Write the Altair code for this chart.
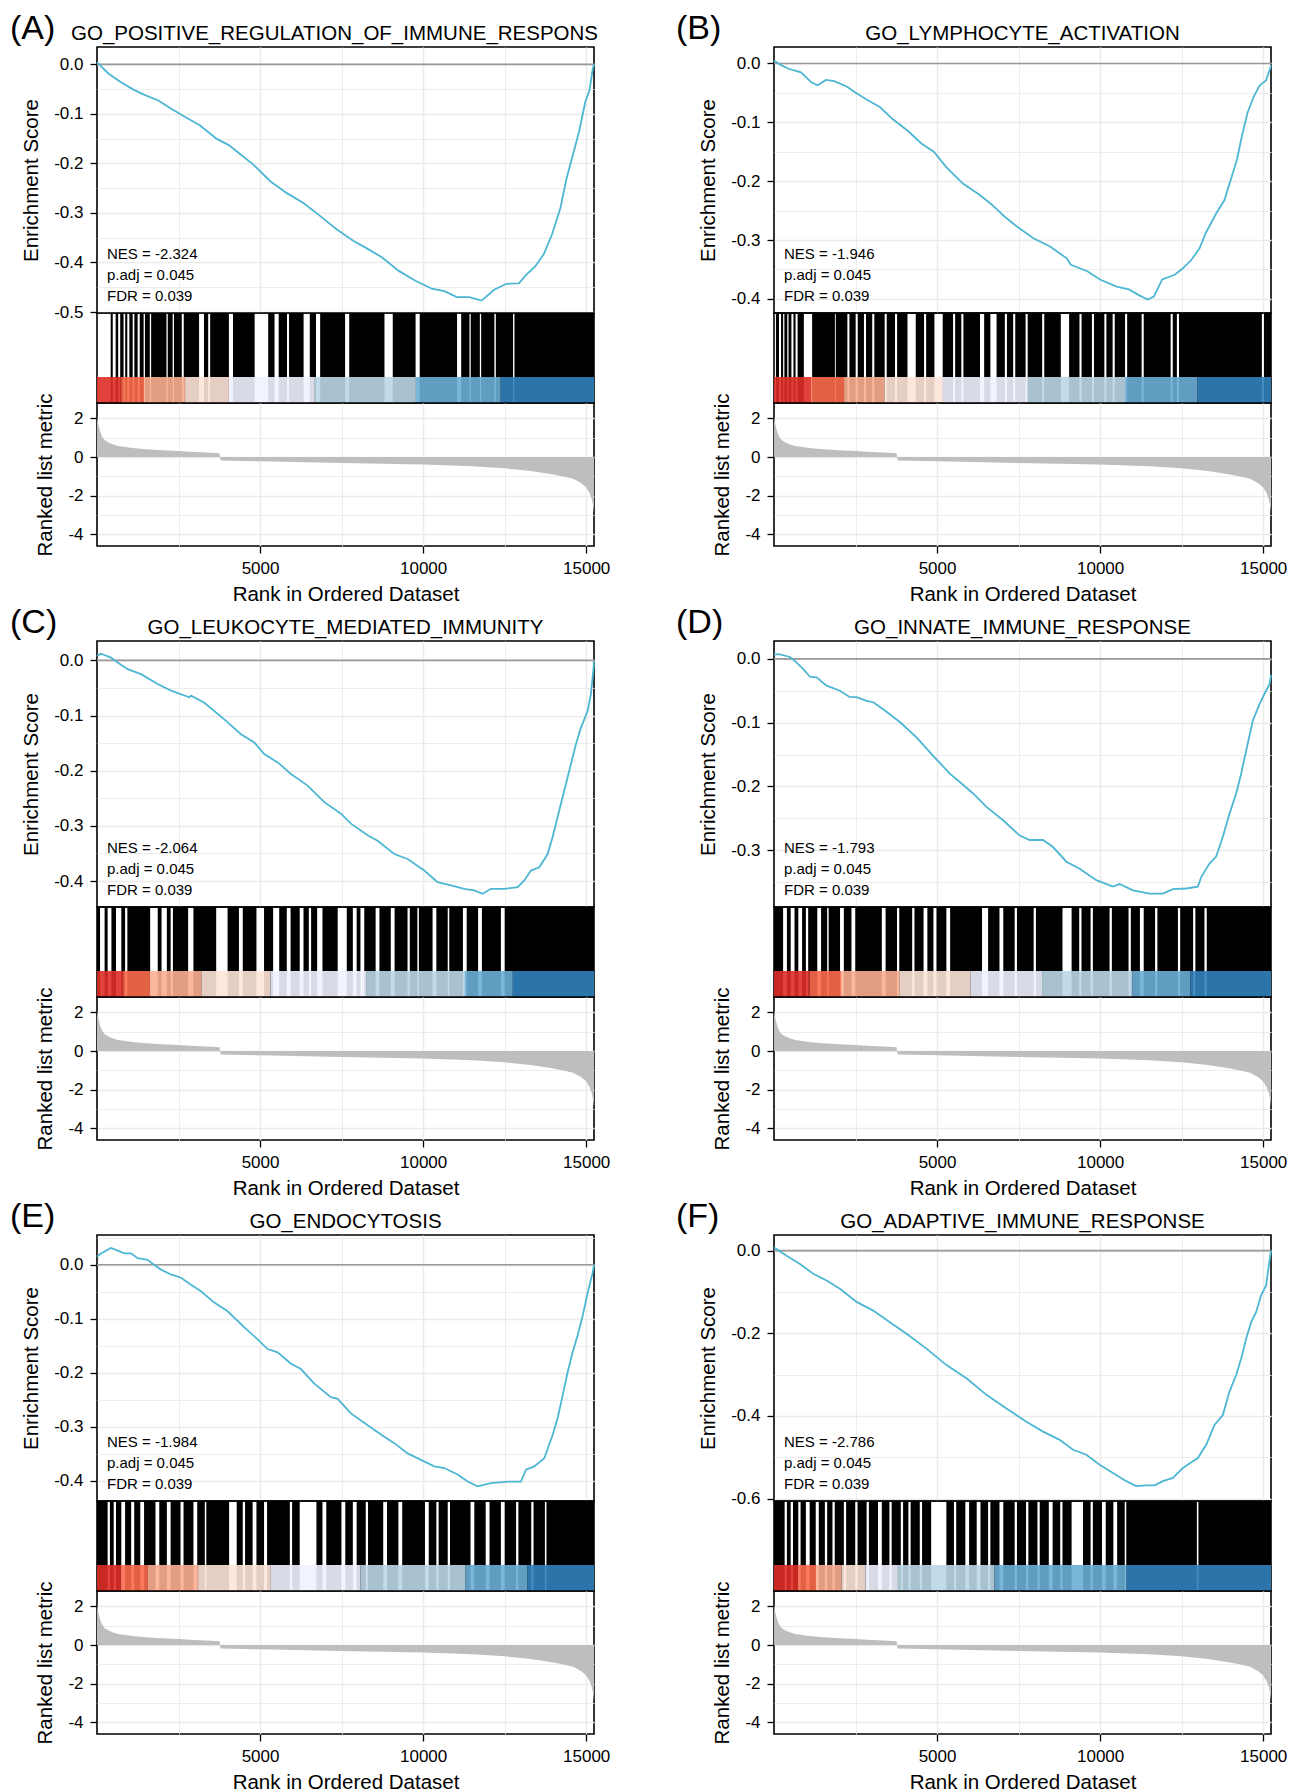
import altair as alt
import pandas as pd

FONT = "Liberation Sans"
N_GENES = 15240
PANEL_W = 497
ES_H = 266
HITS_H = 90
BAND_H = 26
RANK_H = 143
GAP_H = 95

LINE_COLOR = "#4DB6D3"
BAND_COLORS = ["#DE2D26", "#FB6A4A", "#FCAE91", "#FEE5D9", "#EFF3FF", "#BDD7E7", "#6BAED6", "#3182BD"]

x_grid = [2500, 5000, 7500, 10000, 12500, 15000]

# ranked list metric (same dataset for all panels)
metric_rank = [1, 40, 100, 160, 230, 350, 480, 650, 870, 1150, 1500, 2000, 2500, 3000, 3500, 3760, 3790,
               5000, 7500, 10000, 11500, 12500, 13300, 13900, 14300, 14600, 14850, 15000, 15100, 15170, 15210, 15240]
metric_value = [2.1, 1.7, 1.3, 1.05, 0.88, 0.75, 0.66, 0.58, 0.52, 0.46, 0.41, 0.36, 0.31, 0.27, 0.23, 0.2, -0.17,
                -0.22, -0.3, -0.38, -0.47, -0.58, -0.72, -0.87, -1.0, -1.12, -1.35, -1.57, -1.85, -2.15, -2.5, -2.9]
metric_ticks = [-4, -3, -2, -1, 0, 1, 2]

# ---------------- panel A ----------------
title_A = "GO_POSITIVE_REGULATION_OF_IMMUNE_RESPONSE"
nes_A = "-2.324"
es_rank_A = [0, 356, 737, 1118, 1436, 1881, 2262, 2771, 3152, 3661, 4042, 4423, 4805, 5313, 5821, 6330, 6838, 7346,
             7855, 8236, 8745, 9253, 9761, 10269, 10651, 11032, 11413, 11795, 12176, 12557, 12939, 13130, 13447,
             13701, 13955, 14210, 14400, 14591, 14782, 14972, 15100, 15202, 15240]
es_value_A = [0.004, -0.019, -0.036, -0.051, -0.061, -0.073, -0.089, -0.109, -0.123, -0.150, -0.163, -0.183, -0.203,
              -0.236, -0.260, -0.280, -0.306, -0.333, -0.356, -0.370, -0.390, -0.417, -0.437, -0.453, -0.458, -0.470,
              -0.470, -0.477, -0.455, -0.443, -0.442, -0.427, -0.407, -0.383, -0.343, -0.290, -0.230, -0.183, -0.136,
              -0.076, -0.053, -0.009, 0.0]
es_domain_A = [-0.502, 0.035]
es_ticks_A = [0.0, -0.05, -0.1, -0.15, -0.2, -0.25, -0.3, -0.35, -0.4, -0.45, -0.5]
gaps_A = [[0, 420], [483, 572], [649, 712], [814, 865], [929, 992], [1094, 1145], [1247, 1310], [1430, 1470],
          [1620, 1660], [2130, 2170], [2320, 2360], [2600, 2660], [3130, 3280], [3410, 3470], [4045, 4170],
          [4834, 5250], [5444, 5571], [5826, 5889], [6335, 6525], [6716, 6843], [7607, 7734], [8815, 9069],
          [9769, 9896], [11041, 11168], [11422, 11460], [11740, 11780], [12186, 12230], [12758, 12800]]
band_A = [0, 740, 1440, 2700, 4045, 6680, 9775, 12380, 15240]

# ---------------- panel B ----------------
title_B = "GO_LYMPHOCYTE_ACTIVATION"
nes_B = "-1.946"
es_rank_B = [0, 191, 446, 827, 1146, 1337, 1591, 1846, 2228, 2482, 2864, 3246, 3628, 4137, 4519, 4901, 5283, 5792,
             6301, 6683, 7065, 7447, 7956, 8465, 8974, 9102, 9611, 9993, 10502, 10884, 11202, 11457, 11648, 11903,
             12285, 12540, 12795, 13049, 13240, 13558, 13812, 14003, 14194, 14322, 14513, 14704, 14895, 15086,
             15213, 15240]
es_value_B = [0.005, -0.002, -0.009, -0.015, -0.032, -0.037, -0.028, -0.030, -0.039, -0.049, -0.062, -0.074, -0.094,
              -0.116, -0.136, -0.150, -0.176, -0.204, -0.223, -0.240, -0.260, -0.277, -0.297, -0.311, -0.331, -0.342,
              -0.353, -0.367, -0.379, -0.384, -0.394, -0.401, -0.396, -0.367, -0.359, -0.348, -0.334, -0.314, -0.288,
              -0.255, -0.232, -0.198, -0.164, -0.130, -0.085, -0.057, -0.037, -0.029, -0.009, -0.003]
es_domain_B = [-0.424, 0.028]
es_ticks_B = [0.0, -0.05, -0.1, -0.15, -0.2, -0.25, -0.3, -0.35, -0.4]
gaps_B = [[0, 60], [153, 216], [280, 318], [407, 445], [534, 597], [661, 724], [915, 1169], [1868, 1894],
          [2250, 2313], [2504, 2567], [2758, 2822], [3012, 3076], [3394, 3457], [3711, 3775], [4093, 4347],
          [4601, 4665], [4919, 5173], [5491, 5554], [5745, 5808], [6317, 6444], [6635, 6825], [7079, 7143],
          [7334, 7397], [7715, 7779], [8223, 8287], [8795, 9049], [9367, 9431], [9749, 9812], [10130, 10193],
          [10384, 10448], [10765, 10829], [11274, 11337], [12163, 12227], [12354, 12418], [14960, 15023]]
band_B = [0, 1144, 2148, 3393, 5172, 7777, 10764, 12988, 15240]

# ---------------- panel C ----------------
title_C = "GO_LEUKOCYTE_MEDIATED_IMMUNITY"
nes_C = "-2.064"
es_rank_C = [0, 123, 429, 634, 940, 1349, 1860, 2269, 2831, 2882, 3291, 3904, 4415, 4824, 5130, 5539, 5948, 6459,
             6970, 7481, 7788, 8299, 8605, 9116, 9525, 10036, 10445, 10854, 11262, 11569, 11825, 12080, 12489, 12898,
             13102, 13307, 13562, 13818, 13971, 14124, 14329, 14533, 14686, 14840, 15044, 15146, 15228, 15240]
es_value_C = [0.008, 0.012, 0.005, -0.004, -0.016, -0.025, -0.043, -0.055, -0.067, -0.064, -0.077, -0.107, -0.134,
              -0.149, -0.170, -0.185, -0.206, -0.227, -0.257, -0.278, -0.296, -0.317, -0.327, -0.351, -0.360, -0.381,
              -0.402, -0.408, -0.414, -0.417, -0.423, -0.414, -0.414, -0.411, -0.399, -0.381, -0.375, -0.351, -0.320,
              -0.284, -0.236, -0.188, -0.152, -0.122, -0.092, -0.061, -0.013, -0.001]
es_domain_C = [-0.447, 0.035]
es_ticks_C = [0.0, -0.05, -0.1, -0.15, -0.2, -0.25, -0.3, -0.35, -0.4]
gaps_C = [[93, 233], [326, 442], [582, 745], [861, 931], [1630, 1862], [1979, 2142], [2258, 2328], [2794, 2957],
          [3655, 4004], [4353, 4470], [4889, 5122], [5401, 5587], [5820, 5936], [6216, 6332], [6495, 6565],
          [6751, 6914], [7380, 7659], [7845, 7962], [8078, 8195], [8544, 8660], [9009, 9126], [9522, 9591],
          [9824, 9871], [10290, 10406], [10755, 10802], [11221, 11337], [11686, 11803], [12385, 12501]]
band_C = [0, 800, 1630, 3200, 5320, 8250, 11270, 12750, 15240]

# ---------------- panel D ----------------
title_D = "GO_INNATE_IMMUNE_RESPONSE"
nes_D = "-1.793"
es_rank_D = [0, 184, 490, 694, 899, 1103, 1307, 1613, 2021, 2327, 2532, 2838, 3042, 3349, 3859, 4370, 4880, 5391,
             5697, 6106, 6514, 7025, 7535, 7841, 8250, 8556, 8965, 9373, 9884, 10394, 10598, 11007, 11517, 11925,
             12231, 12640, 12998, 13100, 13355, 13559, 13763, 13967, 14172, 14325, 14478, 14682, 14886, 15090,
             15192, 15240]
es_value_D = [0.007, 0.007, 0.003, -0.006, -0.016, -0.028, -0.029, -0.042, -0.050, -0.060, -0.060, -0.066, -0.068,
              -0.079, -0.099, -0.123, -0.152, -0.180, -0.193, -0.211, -0.232, -0.253, -0.277, -0.284, -0.284, -0.295,
              -0.318, -0.329, -0.347, -0.357, -0.353, -0.363, -0.368, -0.368, -0.361, -0.360, -0.357, -0.342, -0.321,
              -0.310, -0.279, -0.243, -0.211, -0.180, -0.144, -0.097, -0.071, -0.050, -0.040, -0.025]
es_domain_D = [-0.389, 0.028]
es_ticks_D = [0.0, -0.05, -0.1, -0.15, -0.2, -0.25, -0.3, -0.35]
gaps_D = [[279, 396], [512, 629], [745, 861], [978, 1048], [1327, 1443], [1630, 1676], [2025, 2142], [2375, 2491],
          [3306, 3422], [3771, 3841], [4237, 4307], [4586, 4703], [4889, 4982], [5285, 5401], [6379, 6565],
          [6914, 7031], [7380, 7450], [7962, 8032], [8846, 9126], [9359, 9429], [9708, 9778], [10290, 10360],
          [10872, 10942], [11221, 11337], [11686, 11756], [12385, 12455], [12851, 12921], [13200, 13270]]
band_D = [0, 1090, 2070, 3850, 6030, 8220, 10980, 12770, 15240]

# ---------------- panel E ----------------
title_E = "GO_ENDOCYTOSIS"
nes_E = "-1.984"
es_rank_E = [0, 123, 429, 634, 838, 1042, 1247, 1553, 1707, 1962, 2269, 2576, 2882, 3189, 3597, 4006, 4517, 4926,
             5233, 5539, 5948, 6255, 6663, 7174, 7379, 7788, 8299, 8810, 9116, 9525, 9934, 10343, 10649, 11058,
             11365, 11671, 12080, 12591, 13000, 13153, 13409, 13715, 13971, 14124, 14277, 14431, 14584, 14737,
             14891, 15044, 15197, 15240]
es_value_E = [0.015, 0.021, 0.031, 0.026, 0.021, 0.021, 0.012, 0.009, 0.002, -0.009, -0.018, -0.024, -0.037, -0.049,
              -0.070, -0.086, -0.116, -0.138, -0.156, -0.162, -0.183, -0.193, -0.220, -0.245, -0.248, -0.275, -0.297,
              -0.318, -0.330, -0.349, -0.361, -0.373, -0.376, -0.388, -0.401, -0.410, -0.404, -0.401, -0.401, -0.379,
              -0.373, -0.358, -0.315, -0.284, -0.242, -0.199, -0.162, -0.131, -0.095, -0.052, -0.015, 0.0]
es_domain_E = [-0.437, 0.055]
es_ticks_E = [0.05, 0.0, -0.05, -0.1, -0.15, -0.2, -0.25, -0.3, -0.35, -0.4]
gaps_E = [[326, 396], [512, 582], [745, 861], [1048, 1141], [1327, 1443], [1793, 1909], [2142, 2258], [2561, 2654],
          [2957, 3073], [3306, 3352], [4051, 4284], [4470, 4540], [4772, 4889], [5122, 5215], [5913, 5983],
          [6216, 6728], [6914, 7031], [7496, 7613], [7845, 7962], [8241, 8311], [8777, 8893], [9242, 9359],
          [10057, 10173], [10406, 10476], [10755, 10825], [11454, 11570], [11919, 12036], [12385, 12501],
          [12851, 12921], [13316, 13386], [13735, 13782]]
band_E = [0, 745, 1560, 3100, 5330, 8080, 11290, 13200, 15240]

# ---------------- panel F ----------------
title_F = "GO_ADAPTIVE_IMMUNE_RESPONSE"
nes_F = "-2.786"
es_rank_F = [0, 388, 796, 1205, 1613, 2021, 2532, 3042, 3553, 4063, 4676, 5288, 5901, 6514, 7127, 7739, 8250, 8760,
             9169, 9577, 9986, 10394, 10802, 11109, 11415, 11670, 11925, 12231, 12538, 12844, 12998, 13253, 13508,
             13763, 13967, 14172, 14325, 14478, 14631, 14784, 14937, 15090, 15172, 15240]
es_value_F = [0.008, -0.012, -0.032, -0.056, -0.072, -0.092, -0.124, -0.145, -0.173, -0.201, -0.237, -0.277, -0.309,
              -0.349, -0.382, -0.414, -0.438, -0.458, -0.482, -0.494, -0.518, -0.538, -0.558, -0.570, -0.568, -0.568,
              -0.558, -0.550, -0.526, -0.510, -0.502, -0.470, -0.422, -0.398, -0.341, -0.301, -0.261, -0.213, -0.173,
              -0.149, -0.108, -0.084, -0.036, 0.0]
es_domain_F = [-0.606, 0.038]
es_ticks_F = [0.0, -0.1, -0.2, -0.3, -0.4, -0.5, -0.6]
gaps_F = [[326, 396], [512, 582], [745, 815], [978, 1094], [1280, 1374], [1560, 1630], [1793, 1862], [2142, 2212],
          [2491, 2561], [2840, 2910], [3189, 3306], [3539, 3608], [3888, 3958], [4121, 4190], [4470, 4540],
          [4819, 5285], [5518, 5587], [5867, 5983], [6216, 6332], [6565, 6635], [6914, 7031], [7380, 7450],
          [7729, 7799], [8078, 8148], [8427, 8544], [8777, 8846], [9126, 9475], [9708, 9778], [10057, 10173],
          [10406, 10522], [10755, 10802], [12967, 13014]]
band_F = [0, 745, 1290, 2070, 2800, 3800, 6760, 10810, 15240]

PADJ = "0.045"
FDR = "0.039"

GRID_MAJOR = 1.5
GRID_MINOR = 0.9


def cond(test, a, b):
    return {"condition": {"test": test, "value": a}, "value": b}


def x_scale():
    return alt.Scale(domain=[0, N_GENES], nice=False, zero=False)


def hyphen(expr):
    # use a plain hyphen-minus for negative tick labels
    return f"replace({expr}, '\u2212', '-')"


X_MAJOR = "datum.value % 5000 === 0"


def es_chart(letter, col):
    g = globals()
    ranks, vals = g["es_rank_" + letter], g["es_value_" + letter]
    dom, ticks = g["es_domain_" + letter], g["es_ticks_" + letter]
    step = 0.2 if letter == "F" else 0.1
    major = f"abs(datum.value/{step} - round(datum.value/{step})) < 0.001"
    x_enc = alt.X("rank:Q", scale=x_scale(),
                  axis=alt.Axis(values=x_grid, labels=False, ticks=False, domain=False, title=None,
                                grid=True, gridWidth=cond(X_MAJOR, GRID_MAJOR, GRID_MINOR)))
    y_enc = alt.Y("es:Q", scale=alt.Scale(domain=dom, nice=False, zero=False),
                  axis=alt.Axis(values=ticks, title="Enrichment Score", titlePadding=12,
                                labelExpr=f"{major} ? {hyphen('format(datum.value, \".1f\")')} : ''",
                                tickOpacity=cond(major, 1, 0), gridWidth=cond(major, GRID_MAJOR, GRID_MINOR),
                                labelOverlap=False, labelFlush=False, grid=True))
    df = pd.DataFrame({"rank": list(ranks), "es": vals})
    zero = alt.Chart(pd.DataFrame({"es": [0.0]})).mark_rule(color="#999999", strokeWidth=1.7).encode(y=y_enc)
    line = alt.Chart(df).mark_line(color=LINE_COLOR, strokeWidth=1.8).encode(x=x_enc, y=y_enc)
    layers = [zero, line]
    stats = [f"NES = {g['nes_' + letter]}", f"p.adj = {PADJ}", f"FDR = {FDR}"]
    for i, s in enumerate(stats):
        layers.append(alt.Chart(pd.DataFrame({"t": [s]})).mark_text(
            font=FONT, fontSize=15, align="left", baseline="alphabetic", color="black").encode(
            text="t:N", x=alt.value(10), y=alt.value(ES_H - 54.4 + 21.3 * i)))
    title = g["title_" + letter]
    if letter == "A":
        layers.append(alt.Chart(pd.DataFrame({"t": [title]})).mark_text(
            font=FONT, fontSize=20.5, align="left", baseline="alphabetic", color="black",
            limit=535, ellipsis=" ").encode(text="t:N", x=alt.value(-26), y=alt.value(-6.8)))
    else:
        layers.append(alt.Chart(pd.DataFrame({"t": [title]})).mark_text(
            font=FONT, fontSize=20.5, align="center", baseline="alphabetic", color="black").encode(
            text="t:N", x=alt.value(PANEL_W / 2), y=alt.value(-6.8)))
    layers.append(alt.Chart(pd.DataFrame({"t": [f"({letter})"]})).mark_text(
        font=FONT, fontSize=34, align="left", baseline="alphabetic", color="black").encode(
        text="t:N", x=alt.value(-87 if col == 0 else -98), y=alt.value(-7.7)))
    return alt.layer(*layers).properties(width=PANEL_W, height=ES_H)


def hits_chart(letter):
    g = globals()
    gaps = g["gaps_" + letter]
    bounds = g["band_" + letter]
    starts, ends = [], []
    cur = 0
    for a, b in gaps:
        if a > cur:
            starts.append(cur)
            ends.append(a)
        cur = b
    if cur < N_GENES:
        starts.append(cur)
        ends.append(N_GENES)
    hits = pd.DataFrame({"s": starts, "e": ends})
    band = pd.DataFrame({"s": bounds[:-1], "e": bounds[1:], "col": BAND_COLORS})
    x_enc = alt.X("s:Q", scale=x_scale(), axis=None)
    black = alt.Chart(hits).mark_rect(color="black").encode(
        x=x_enc, x2="e:Q", y=alt.value(0), y2=alt.value(HITS_H))
    colband = alt.Chart(band).mark_rect(opacity=0.9).encode(
        x=x_enc, x2="e:Q", y=alt.value(HITS_H - BAND_H), y2=alt.value(HITS_H),
        color=alt.Color("col:N", scale=None))
    return alt.layer(black, colband).properties(width=PANEL_W, height=HITS_H)


def ranked_chart():
    df = pd.DataFrame({"rank": metric_rank, "metric": metric_value, "base": [0.0] * len(metric_rank)})
    major = "datum.value % 2 === 0"
    x_enc = alt.X("rank:Q", scale=x_scale(),
                  axis=alt.Axis(values=x_grid, title="Rank in Ordered Dataset", titlePadding=8,
                                labelExpr=f"{X_MAJOR} ? format(datum.value, 'd') : ''",
                                tickOpacity=cond(X_MAJOR, 1, 0), gridWidth=cond(X_MAJOR, GRID_MAJOR, GRID_MINOR),
                                labelOverlap=False, labelFlush=False, grid=True))
    y_enc = alt.Y("metric:Q", scale=alt.Scale(domain=[-4.6, 2.8], nice=False, zero=False),
                  axis=alt.Axis(values=metric_ticks, title="Ranked list metric", titlePadding=12,
                                labelExpr=f"{major} ? {hyphen('format(datum.value, \"d\")')} : ''",
                                tickOpacity=cond(major, 1, 0), gridWidth=cond(major, GRID_MAJOR, GRID_MINOR),
                                labelOverlap=False, labelFlush=False, grid=True))
    return alt.Chart(df).mark_area(color="#BEBEBE", opacity=1).encode(
        x=x_enc, y=y_enc, y2="base:Q").properties(width=PANEL_W, height=RANK_H)


def spacer():
    return alt.Chart(pd.DataFrame({"t": [""]})).mark_text().encode(text="t:N").properties(
        width=PANEL_W, height=GAP_H, view=alt.ViewBackground(stroke="transparent", fill="transparent"))


cells = []
pairs = [("A", "B"), ("C", "D"), ("E", "F")]
for k, (l1, l2) in enumerate(pairs):
    cells += [es_chart(l1, 0), es_chart(l2, 1)]
    cells += [hits_chart(l1), hits_chart(l2)]
    cells += [ranked_chart(), ranked_chart()]
    if k < len(pairs) - 1:
        cells += [spacer(), spacer()]

chart = alt.concat(*cells, columns=2, spacing={"row": 0, "column": 180}, bounds="flush").properties(
    padding={"left": 1, "top": 3, "right": 5, "bottom": 0}
).configure_view(
    stroke="black", strokeWidth=1.6
).configure_axis(
    labelFont=FONT, titleFont=FONT, labelFontSize=17, titleFontSize=20.5,
    labelColor="black", titleColor="black", titleFontWeight="normal",
    tickColor="black", tickWidth=1.3, tickSize=7, labelPadding=7,
    gridColor="#EBEBEB", domain=False
)

chart.save("out.html", embed_options={"renderer": "svg", "actions": False})
